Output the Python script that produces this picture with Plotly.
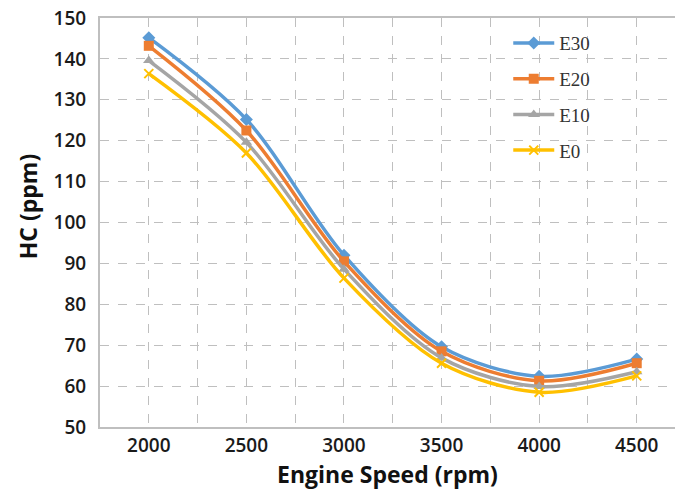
import plotly.graph_objects as go

speed = [2000, 2500, 3000, 3500, 4000, 4500]
e30 = [145.2, 125.2, 92.0, 69.6, 62.4, 66.6]
e20 = [143.2, 122.5, 90.5, 68.5, 61.3, 65.6]
e10 = [139.6, 119.6, 88.6, 66.9, 59.9, 63.5]
e0 = [136.4, 117.0, 86.4, 65.6, 58.5, 62.5]

series = [
    ("E30", e30, "#5B9BD5", "diamond"),
    ("E20", e20, "#ED7D31", "square"),
    ("E10", e10, "#A5A5A5", "triangle-up"),
    ("E0", e0, "#FFC000", "x-thin"),
]

fig = go.Figure()
for name, vals, color, sym in series:
    mk = dict(symbol=sym, size=10, color=color)
    if sym == "x-thin":
        mk = dict(symbol=sym, size=9, color=color, line=dict(color=color, width=2))
    fig.add_trace(go.Scatter(
        x=speed, y=vals, name=name, mode="lines+markers",
        line=dict(color=color, width=3.5, shape="spline", smoothing=0.9),
        marker=mk, legendgroup=name,
    ))

fig.update_layout(
    width=675, height=500,
    margin=dict(l=100, r=0, t=18, b=73),
    plot_bgcolor="white", paper_bgcolor="white",
    showlegend=True,
    legend=dict(
        x=0.71, y=0.985, xanchor="left", yanchor="top",
        font=dict(family="Liberation Serif", size=19, color="#333333"),
        bgcolor="rgba(255,255,255,0)", tracegroupgap=8, itemwidth=41,
    ),
    xaxis=dict(
        range=[1750, 4696], tickvals=speed, ticktext=[str(s) for s in speed],
        showgrid=True, gridcolor="#BFBFBF", griddash="dash", gridwidth=1,
        minor=dict(dtick=250, tick0=1750, showgrid=True, gridcolor="#BFBFBF", griddash="dash"),
        showline=True, linecolor="#BFBFBF", linewidth=2, mirror=True,
        zeroline=False, ticks="",
        tickfont=dict(family="Open Sans", size=19, color="#1a1a1a", weight=600),
        title=dict(text="<b>Engine Speed (rpm)</b>", standoff=6,
                   font=dict(family="Open Sans", size=23, color="#111111")),
    ),
    yaxis=dict(
        range=[50, 150], dtick=10,
        showgrid=True, gridcolor="#BFBFBF", griddash="dash", gridwidth=1,
        showline=True, linecolor="#BFBFBF", linewidth=2,
        zeroline=False, ticks="", ticklabelstandoff=8,
        tickfont=dict(family="Open Sans", size=19, color="#1a1a1a", weight=600),
    ),
    annotations=[dict(
        text="<b>HC (ppm)</b>", textangle=-90, showarrow=False,
        xref="paper", yref="paper", x=-0.125, y=0.54,
        xanchor="center", yanchor="middle",
        font=dict(family="Open Sans", size=23, color="#111111"),
    )],
)

fig.write_html("out.html")
